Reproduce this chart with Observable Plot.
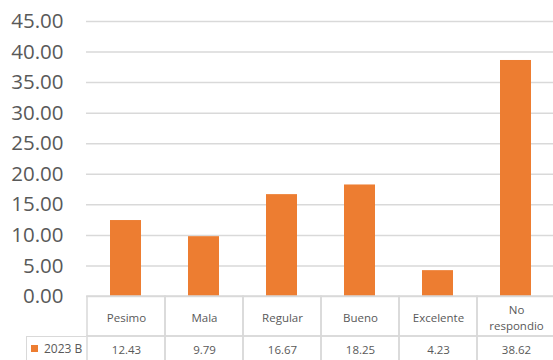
<!DOCTYPE html>
<html>
<head>
<meta charset="utf-8">
<script src="https://cdn.jsdelivr.net/npm/d3@7"></script>
<script src="https://cdn.jsdelivr.net/npm/@observablehq/plot@0.6"></script>
<style>
  html, body { margin: 0; padding: 0; background: #fff; }
  #wrap { position: relative; width: 553px; height: 360px; overflow: hidden; background: #fff; font-family: "Open Sans", sans-serif; }
  #wrap > .layer { position: absolute; left: 0; max-width: none !important; }
  #legendCell { position: absolute; left: 26px; top: 336px; width: 60px; height: 30px; box-sizing: border-box;
    border-left: 1.5px solid #D9D9D9; border-top: 1.5px solid #D9D9D9; display: flex; align-items: flex-start;
    padding: 3px 0 0 4px; white-space: nowrap; }
  #legendCell > div { min-height: 0 !important; margin: 0 !important; flex-wrap: nowrap !important; }
  #legendCell * { white-space: nowrap; font-size: 12px !important; font-family: "Open Sans", sans-serif !important; color: #595959 !important; }
</style>
</head>
<body>
<div id="wrap"></div>
<script>
// ---- data ----
const categories = ["Pesimo", "Mala", "Regular", "Bueno", "Excelente", "No respondio"];
const categoryLabels = ["Pesimo", "Mala", "Regular", "Bueno", "Excelente", "No\nrespondio"];
const values = [12.43, 9.79, 16.67, 18.25, 4.23, 38.62];
const seriesName = "2023 B";
const yTicks = [0, 5, 10, 15, 20, 25, 30, 35, 40, 45];

const data = categories.map((c, i) => ({cat: c, label: categoryLabels[i], value: values[i]}));

const W = 556;
const grid = "#D9D9D9";
const textColor = "#595959";
const orange = "#ED7D31";
const font = "Open Sans";

const wrap = document.getElementById("wrap");

// ---- chart ----
const chart = Plot.plot({
  width: W, height: 306,
  marginTop: 21, marginBottom: 10, marginLeft: 86, marginRight: 0,
  style: {fontFamily: font, overflow: "visible", background: "transparent"},
  x: {type: "band", domain: categories, paddingInner: 0.6, paddingOuter: 0.3, axis: null},
  y: {domain: [0, 45], axis: null},
  marks: [
    Plot.gridY(yTicks, {stroke: grid, strokeOpacity: 1, strokeWidth: 1.5}),
    Plot.barY(data, {x: "cat", y: "value", fill: orange}),
    Plot.axisY(yTicks, {tickSize: 0, tickPadding: 23, tickFormat: d => d.toFixed(2),
      fontSize: 20.5, fill: textColor, label: null})
  ]
});
chart.classList.add("layer");
chart.style.top = "0px";
wrap.appendChild(chart);

// ---- table: category names row ----
const namesRow = Plot.plot({
  width: W, height: 40,
  marginTop: 0, marginBottom: 0, marginLeft: 86, marginRight: 0,
  style: {fontFamily: font, overflow: "visible", background: "transparent"},
  x: {type: "band", domain: categories, padding: 0, axis: null},
  marks: [
    Plot.cell(data, {x: "cat", fill: "none", stroke: grid, strokeWidth: 1.5}),
    Plot.text(data, {x: "cat", text: "label", frameAnchor: "middle", lineAnchor: "middle",
      lineHeight: 1.4, fontSize: 11.5, fill: textColor})
  ]
});
namesRow.classList.add("layer");
namesRow.style.top = "296px";
wrap.appendChild(namesRow);

// ---- table: values row ----
const valuesRow = Plot.plot({
  width: W, height: 27,
  marginTop: 0, marginBottom: 0, marginLeft: 86, marginRight: 0,
  style: {fontFamily: font, overflow: "visible", background: "transparent"},
  x: {type: "band", domain: categories, padding: 0, axis: null},
  marks: [
    Plot.cell(data, {x: "cat", fill: "none", stroke: grid, strokeWidth: 1.5}),
    Plot.text(data, {x: "cat", text: d => d.value.toFixed(2), frameAnchor: "middle",
      fontSize: 11.5, fill: textColor})
  ]
});
valuesRow.classList.add("layer");
valuesRow.style.top = "336px";
wrap.appendChild(valuesRow);

// ---- legend key cell ----
const legendCell = document.createElement("div");
legendCell.id = "legendCell";
const legend = Plot.legend({
  color: {type: "ordinal", domain: [seriesName], range: [orange]},
  swatchSize: 7,
  style: {fontSize: "12px", fontFamily: font, color: textColor}
});
legendCell.appendChild(legend);
wrap.appendChild(legendCell);
</script>
</body>
</html>
